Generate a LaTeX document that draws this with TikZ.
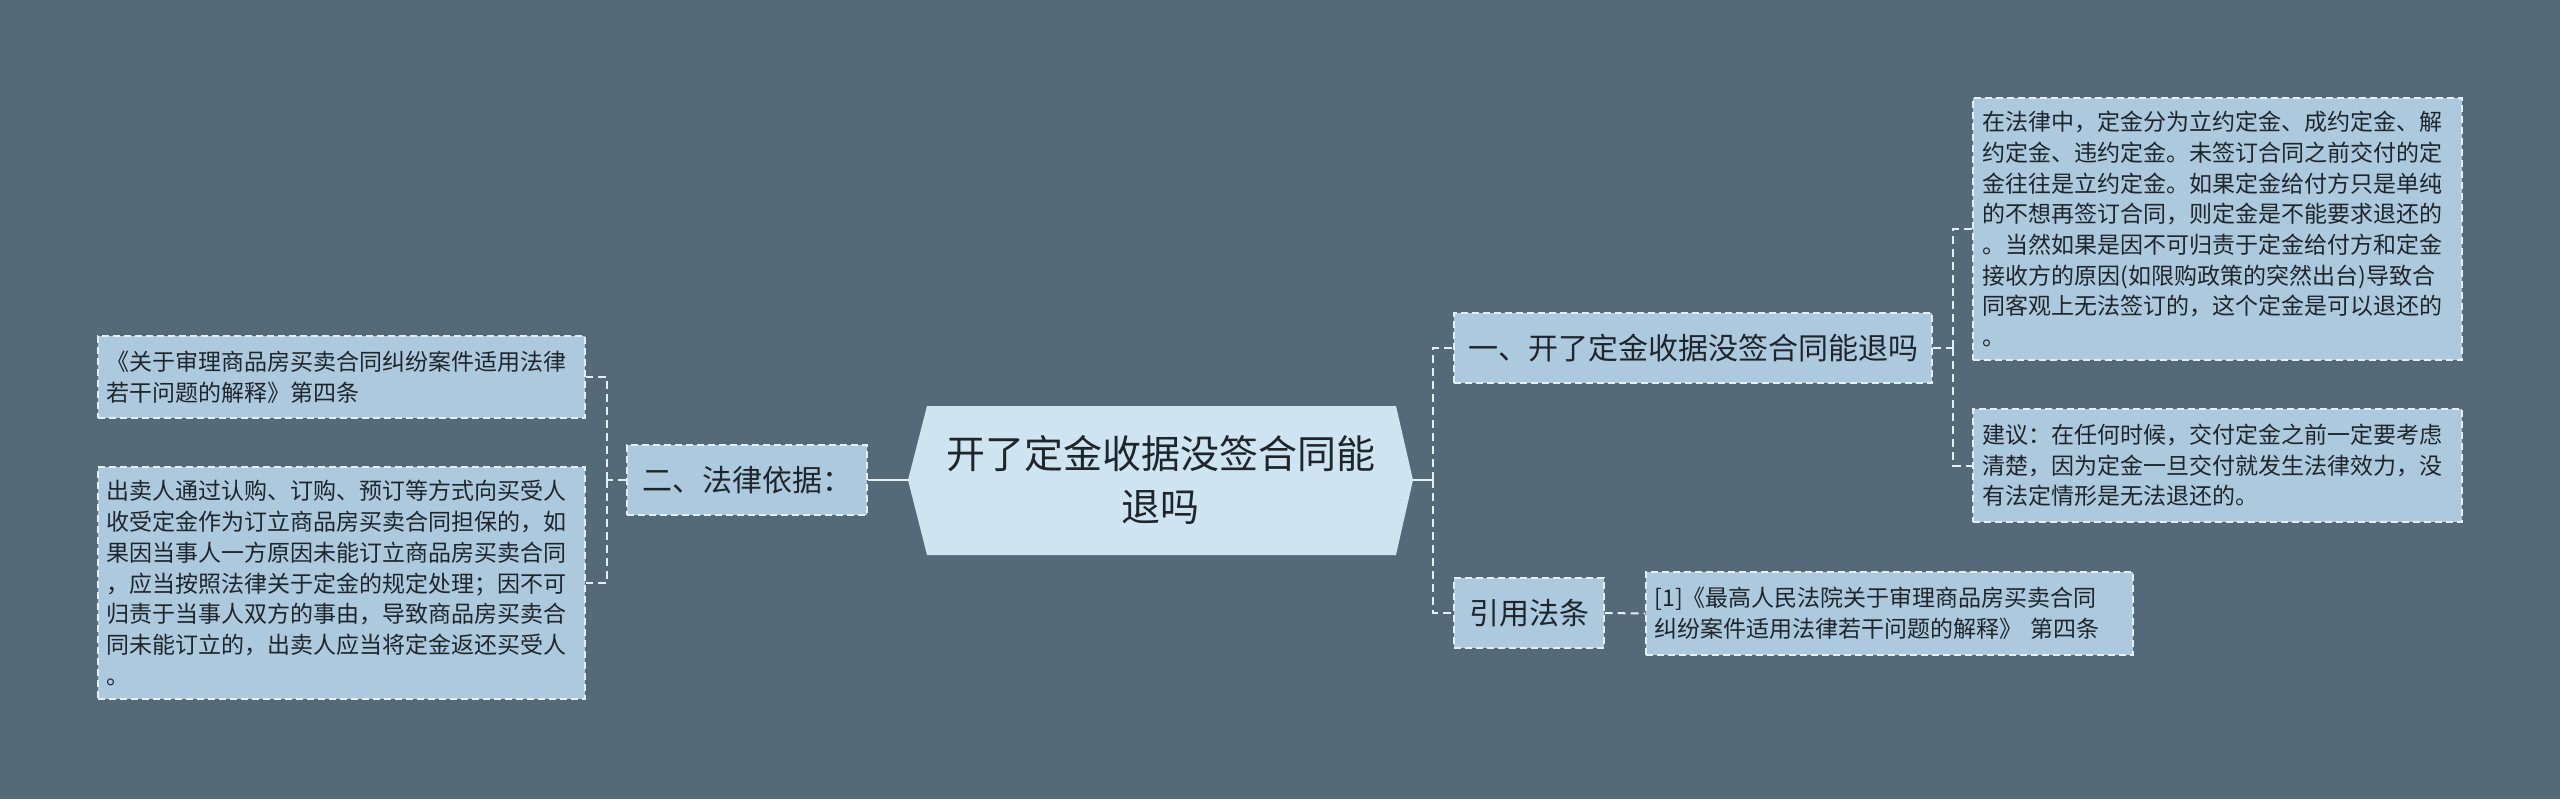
\documentclass[tikz,border=0pt]{standalone}
\usepackage{fontspec}
\setmainfont{Noto Sans CJK SC}
\definecolor{bg}{HTML}{546A79}
\definecolor{boxfill}{HTML}{ADC9DE}
\definecolor{rootfill}{HTML}{CFE4F1}
\definecolor{ink}{HTML}{1E262C}
\definecolor{linec}{HTML}{E4EEF5}
\tikzset{
  tbox/.style={draw=linec, fill=boxfill, dash pattern=on 3.5pt off 2pt, line width=0.7pt, text=ink, inner ysep=0pt},
  txtbox/.style={tbox, align=left, font=\fontsize{11.5}{15.35}\selectfont},
  subbox/.style={tbox, inner xsep=0pt, align=center, font=\fontsize{15}{18}\selectfont},
  rootnode/.style={inner sep=0pt, align=center, text=ink, font=\fontsize{19.5}{26.5}\selectfont},
  dashc/.style={draw=linec, line width=1pt, dash pattern=on 4pt off 2.5pt},
  solidc/.style={draw=linec, line width=1.2pt}
}
\begin{document}
\begin{tikzpicture}[x=0.5pt, y=-0.5pt]
\fill[bg] (0,0) rectangle (2560,799);
\useasboundingbox (0,0) rectangle (2560,799);

% root
\fill[rootfill] (908,480) -- (927,406) -- (1396,406) -- (1413,480) -- (1396,555) -- (927,555) -- cycle;
\node[rootnode, minimum width=252.5pt, minimum height=74.5pt] (root) at (1160.5,480) {开了定金收据没签合同能\\退吗};

% right branch
\node[subbox, minimum width=239pt, minimum height=35pt] (n1) at (1693,348) {一、开了定金收据没签合同能退吗};
\node[subbox, minimum width=75pt, minimum height=35pt] (n2) at (1529,613) {引用法条};

\node[txtbox, text width=235pt, inner xsep=4.75pt, minimum height=131pt] (t1) at (2217.5,229) {在法律中，定金分为立约定金、成约定金、解\\约定金、违约定金。未签订合同之前交付的定\\金往往是立约定金。如果定金给付方只是单纯\\的不想再签订合同，则定金是不能要求退还的\\。当然如果是因不可归责于定金给付方和定金\\接收方的原因(如限购政策的突然出台)导致合\\同客观上无法签订的，这个定金是可以退还的\\。};
\node[txtbox, text width=235pt, inner xsep=4.75pt, minimum height=56.5pt] (t2) at (2217.5,465.5) {建议：在任何时候，交付定金之前一定要考虑\\清楚，因为定金一旦交付就发生法律效力，没\\有法定情形是无法退还的。};
\node[txtbox, text width=235pt, inner xsep=4.25pt, minimum height=41.5pt] (ref) at (1889.5,613.5) {[1]《最高人民法院关于审理商品房买卖合同\\纠纷案件适用法律若干问题的解释》 第四条};

% left branch
\node[subbox, minimum width=120pt, minimum height=35pt] (law) at (747,480) {二、法律依据：};
\node[txtbox, text width=235pt, inner xsep=4.25pt, minimum height=41pt] (l1) at (341.5,377) {《关于审理商品房买卖合同纠纷案件适用法律\\若干问题的解释》第四条};
\node[txtbox, text width=235pt, inner xsep=4.25pt, minimum height=116pt] (l2) at (341.5,583) {出卖人通过认购、订购、预订等方式向买受人\\收受定金作为订立商品房买卖合同担保的，如\\果因当事人一方原因未能订立商品房买卖合同\\，应当按照法律关于定金的规定处理；因不可\\归责于当事人双方的事由，导致商品房买卖合\\同未能订立的，出卖人应当将定金返还买受人\\。};

% connectors
\coordinate (rb) at (1433,480);
\draw[solidc] (root.east) -- (rb);
\draw[dashc] (rb) |- (n1.west);
\draw[dashc] (rb) |- (n2.west);

\coordinate (sb) at (1953,348);
\draw[dashc] (n1.east) -- (sb);
\draw[dashc] (sb) |- (t1.west);
\draw[dashc] (sb) |- (t2.west);

\draw[dashc] (n2.east) -- (ref.west);

\draw[solidc] (root.west) -- (law.east);
\coordinate (lb) at (607,480);
\draw[dashc] (law.west) -- (lb);
\draw[dashc] (lb) |- (l1.east);
\draw[dashc] (lb) |- (l2.east);
\end{tikzpicture}
\end{document}
